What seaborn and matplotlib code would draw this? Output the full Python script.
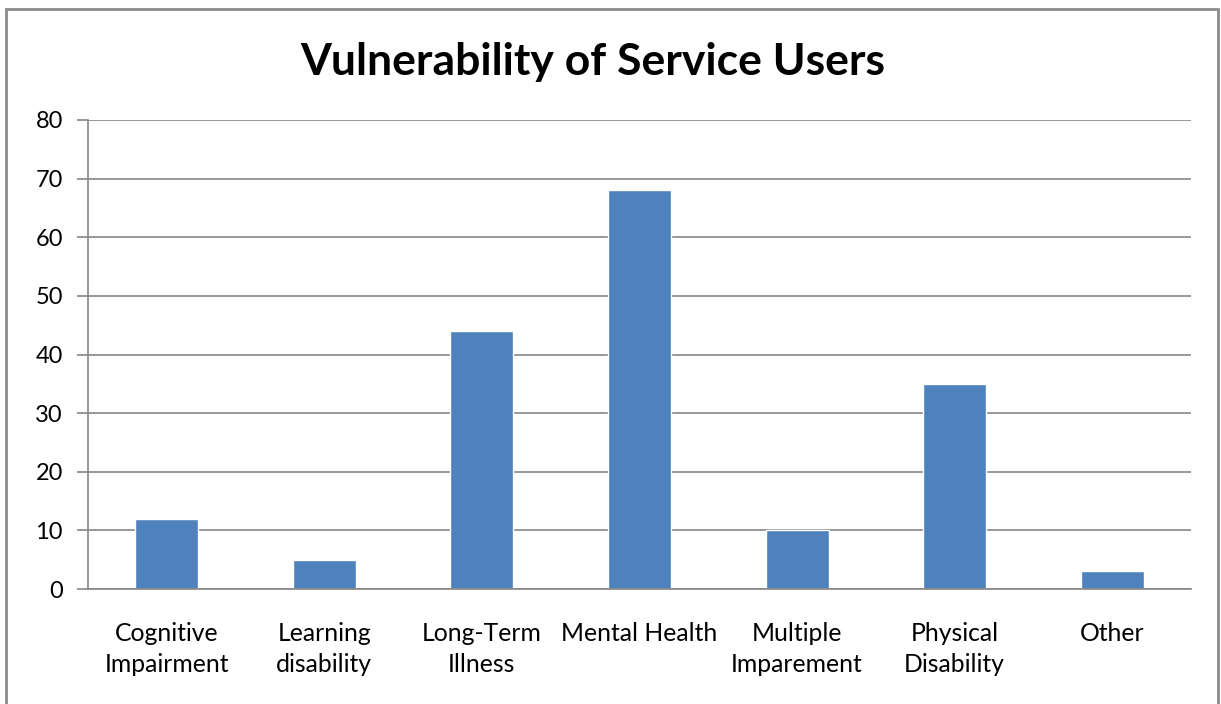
import matplotlib
matplotlib.use("Agg")
import matplotlib.pyplot as plt
import seaborn as sns
import pandas as pd
from matplotlib.patches import Rectangle

categories = ["Cognitive\nImpairment", "Learning\ndisability", "Long-Term\nIllness",
              "Mental Health", "Multiple\nImparement", "Physical\nDisability", "Other"]
values = [12, 5, 44, 68, 10, 35, 3]
yticks = [0, 10, 20, 30, 40, 50, 60, 70, 80]
title = "Vulnerability of Service Users"

sns.set_theme(style="white")
plt.rcParams['font.family'] = ['Lato', 'DejaVu Sans']

df = pd.DataFrame({"cat": categories, "val": values})

fig = plt.figure(figsize=(12.21, 7.04), dpi=100)
ax = fig.add_axes([88/1221, 1-589/704, (1191-88)/1221, (589-120)/704])

sns.barplot(data=df, x="cat", y="val", color="#4F81BD", saturation=1, width=0.4, ax=ax)

grid_c = "#868686"
ax.set_ylim(0, 80)
ax.set_xlim(-0.5, len(categories)-0.5)
ax.set_yticks(yticks)
ax.set_yticklabels([str(t) for t in yticks], fontsize=17, color="black")
ax.yaxis.grid(True, color=grid_c, linewidth=1.2)
ax.set_axisbelow(True)
ax.set_xlabel("")
ax.set_ylabel("")

ax.set_xticks(range(len(categories)))
ax.set_xticklabels(categories, fontsize=17.8, color="black", linespacing=1.42)
ax.set_xticks([i - 0.5 for i in range(len(categories)+1)], minor=True)
ax.tick_params(axis="x", which="major", length=0, pad=23.5)
ax.tick_params(axis="x", which="minor", length=8, color=grid_c, width=1.2, direction="out")
ax.tick_params(axis="y", which="major", length=8, color=grid_c, width=1.2, direction="out", left=True, pad=10)

for s in ["top", "right"]:
    ax.spines[s].set_visible(False)
for s in ["left", "bottom"]:
    ax.spines[s].set_color(grid_c)
    ax.spines[s].set_linewidth(1.2)

fig.text(593/1221, 1-62/704, title, ha="center", va="center", fontsize=32, fontweight="bold", color="black")

border = Rectangle((6/1221, -0.05), (1218-6)/1221, 1-8.5/704+0.05, transform=fig.transFigure,
                   fill=False, edgecolor="#8c8c8c", linewidth=2)
fig.patches.append(border)

fig.savefig("out.png", dpi=100)
